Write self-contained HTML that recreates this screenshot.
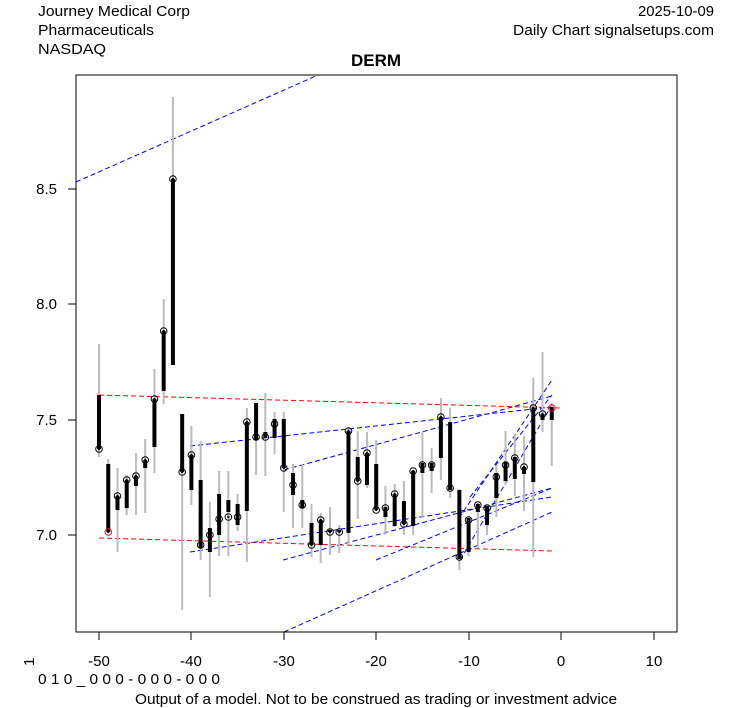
<!DOCTYPE html>
<html><head><meta charset="utf-8"><style>
body{margin:0;background:#fff}
svg{display:block;font-family:"Liberation Sans",Arial,sans-serif}
</style></head><body>
<svg id="s" width="753" height="708" xmlns="http://www.w3.org/2000/svg">
<rect width="753" height="708" fill="#fff"/>
<text x="38" y="16" font-size="15" textLength="152" lengthAdjust="spacingAndGlyphs">Journey Medical Corp</text>
<text x="38" y="35" font-size="15" textLength="116" lengthAdjust="spacingAndGlyphs">Pharmaceuticals</text>
<text x="38" y="54" font-size="15" textLength="68" lengthAdjust="spacingAndGlyphs">NASDAQ</text>
<text x="638" y="16" font-size="15" textLength="76" lengthAdjust="spacingAndGlyphs">2025-10-09</text>
<text x="513" y="35" font-size="15" textLength="201" lengthAdjust="spacingAndGlyphs">Daily Chart signalsetups.com</text>
<text x="376" y="66" font-size="17" font-weight="bold" text-anchor="middle">DERM</text>
<g id="lines" fill="none" stroke-dasharray="5,3" stroke-width="1"></g>
<g id="c"></g>
<rect x="76" y="75" width="601" height="557" fill="none" stroke="#000"/>
<g stroke="#000">
<line x1="99" y1="632" x2="99" y2="640"/><line x1="191" y1="632" x2="191" y2="640"/><line x1="284" y1="632" x2="284" y2="640"/><line x1="376" y1="632" x2="376" y2="640"/><line x1="469" y1="632" x2="469" y2="640"/><line x1="561" y1="632" x2="561" y2="640"/><line x1="654" y1="632" x2="654" y2="640"/>
<line x1="76" y1="189" x2="68" y2="189"/><line x1="76" y1="304" x2="68" y2="304"/><line x1="76" y1="420" x2="68" y2="420"/><line x1="76" y1="535" x2="68" y2="535"/>
</g>
<g font-size="15" text-anchor="middle">
<text x="99" y="666">-50</text><text x="191" y="666">-40</text><text x="284" y="666">-30</text><text x="376" y="666">-20</text><text x="469" y="666">-10</text><text x="561" y="666">0</text><text x="654" y="666">10</text>
</g>
<g font-size="15" text-anchor="end">
<text x="57" y="194">8.5</text><text x="57" y="309">8.0</text><text x="57" y="425">7.5</text><text x="57" y="540">7.0</text>
</g>
<text x="0" y="0" font-size="15" transform="translate(34,666) rotate(-90)">1</text>
<text x="38" y="684" font-size="15" textLength="182" lengthAdjust="spacingAndGlyphs">0 1 0 _ 0 0 0 - 0 0 0 - 0 0 0</text>
<text x="135" y="704" font-size="15" textLength="482" lengthAdjust="spacingAndGlyphs">Output of a model. Not to be construed as trading or investment advice</text>
</svg>
<script>
var NS="http://www.w3.org/2000/svg";
function el(p,t,a){var e=document.createElementNS(NS,t);for(var k in a)e.setAttribute(k,a[k]);p.appendChild(e);return e;}
var L=document.getElementById("lines");
var ln=[["red",99,395,561,408],["red",99,538,552,551],
["blue",76,182,318,75],["blue",190,446,552,407],["blue",190,552,552,497],["blue",283,560,552,488],
["blue",284,632,552,512],["blue",376,560,552,488],["blue",284,470,552,396],["blue",459,518,552,380],
["blue",460,560,552,405],["blue",470,497,552,395]];
ln.forEach(function(l){el(L,"line",{x1:l[1],y1:l[2],x2:l[3],y2:l[4],stroke:l[0]});});
var d=[[-50,344,457,395,449,449],[-49,459,532,464,532,532],[-48,468,552,496,510,496],[-47,475,515,480,508,480],
[-46,453,515,476,486,476],[-45,439,513,460,468,460],[-44,369,473,399,447,399],[-43,299,404,331,391,331],
[-42,97,365,179,365,179],[-41,414,610,414,472,472],[-40,426,505,455,490,455],[-39,441,560,480,548,545],
[-38,502,597,528,552,535],[-37,471,556,494,535,519],[-36,471,556,500,512,517],[-35,494,531,504,525,517],
[-34,408,562,422,511,422],[-33,403,475,403,440,437],[-32,393,476,432,438,437],[-31,412,454,419,438,424],
[-30,412,512,419,468,468],[-29,464,528,473,495,485],[-28,464,528,500,508,505],
[-27,504,557,523,545,545],[-26,513,563,520,545,520],[-25,507,555,530,532,532],[-24,525,553,530,532,532],
[-23,428,545,431,533,431],[-22,431,519,457,481,481],[-21,432,488,453,485,453],[-20,440,509,464,510,510],
[-19,486,535,507,517,508],[-18,484,527,494,526,494],[-17,481,535,501,524,524],[-16,470,535,471,526,471],
[-15,432,517,463,473,465],[-14,448,493,463,471,465],[-13,398,480,417,458,417],[-12,408,498,422,490,488],
[-11,489,570,490,559,557],[-10,517,556,518,552,520],[-9,503,548,504,512,505],[-8,505,535,506,525,508],
[-7,465,517,473,498,477],[-6,431,485,462,481,465],[-5,435,496,457,479,458],[-4,436,511,467,474,467],
[-3,378,557,408,482,408],[-2,352,432,414,420,414],[-1,403,466,407,420,408]];
var C=document.getElementById("c");
d.forEach(function(b,k){var x=561+b[0]*9.24;
el(C,"line",{x1:x,y1:b[1],x2:x,y2:b[2],stroke:"#bbb","stroke-width":2});
el(C,"line",{x1:x,y1:b[3],x2:x,y2:b[4],stroke:"#000","stroke-width":4});
el(C,"circle",{cx:x,cy:b[5],r:3.3,fill:"none",stroke:(k==1||k==d.length-1)?"red":"#000","stroke-width":1});
el(C,"circle",{cx:x,cy:b[5],r:1.2,fill:"#000"});
});
</script>
</body></html>
